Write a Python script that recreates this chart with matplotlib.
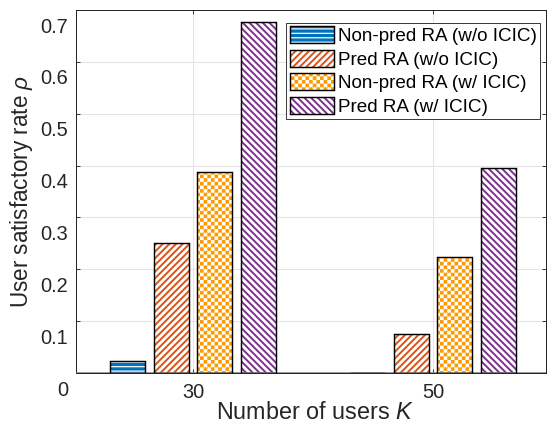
import warnings
import numpy as np
import matplotlib
matplotlib.use('Agg')
import matplotlib.pyplot as plt
import matplotlib.patches as mpatches
import matplotlib.hatch as mhatch
from matplotlib.path import Path
from matplotlib.transforms import ScaledTranslation
from matplotlib.legend_handler import HandlerTuple

warnings.filterwarnings('ignore')

# ---- data ----
users = ['30', '50']
series_names = ['Non-pred RA (w/o ICIC)', 'Pred RA (w/o ICIC)',
                'Non-pred RA (w/ ICIC)', 'Pred RA (w/ ICIC)']
nonpred_wo_icic = [0.024, 0.0]
pred_wo_icic = [0.251, 0.075]
nonpred_w_icic = [0.387, 0.224]
pred_w_icic = [0.677, 0.396]
y_ticks = [0, 0.1, 0.2, 0.3, 0.4, 0.5, 0.6, 0.7]
y_tick_labels = ['0', '0.1', '0.2', '0.3', '0.4', '0.5', '0.6', '0.7']


# ---- checkerboard hatch ('c') ----
class CheckerHatch(mhatch.HatchPatternBase):
    def __init__(self, hatch, density):
        self.num_cells = 22 * hatch.count('c')
        self.num_vertices = (self.num_cells ** 2 // 2) * 5

    def set_vertices_and_codes(self, vertices, codes):
        n = self.num_cells
        step = 1.0 / n
        square = np.array([[0, 0], [1, 0], [1, 1], [0, 1], [0, 0]], float) * step
        sq_codes = [Path.MOVETO, Path.LINETO, Path.LINETO, Path.LINETO, Path.CLOSEPOLY]
        k = 0
        for i in range(n):
            for j in range(n):
                if (i + j) % 2 == 0:
                    vertices[k:k + 5] = square + (i * step, j * step)
                    codes[k:k + 5] = sq_codes
                    k += 5


mhatch._hatch_types.append(CheckerHatch)

plt.rcParams['font.family'] = ['Liberation Sans', 'DejaVu Sans']
plt.rcParams['mathtext.fontset'] = 'custom'
plt.rcParams['mathtext.rm'] = 'Liberation Sans'
plt.rcParams['mathtext.it'] = 'Liberation Sans:italic'

# face colour, hatch colour, hatch pattern, hatch line width (pt)
styles = [
    ('#0072BD', 'white', '---', 1.1),
    ('white', '#D95319', '////', 1.75),
    ('white', '#FF9900', 'c', 0.0),
    ('white', '#7E2F8E', '\\\\\\\\', 1.75),
]
hatch_widths = {s[2]: s[3] for s in styles}


def pin_hatch_width(patch):
    """Give this patch the hatch line width that belongs to its pattern."""
    lw = hatch_widths.get(patch.get_hatch())
    if lw is None:
        return
    if hasattr(patch, 'set_hatch_linewidth'):
        patch.set_hatch_linewidth(lw)
    elif hasattr(patch, '_hatch_linewidth'):
        patch._hatch_linewidth = lw
    orig = patch.draw

    def draw(renderer, _orig=orig, _lw=lw):
        with matplotlib.rc_context({'hatch.linewidth': _lw}):
            _orig(renderer)
    patch.draw = draw


DPI = 80
fig = plt.figure(figsize=(547 / DPI, 426 / DPI), dpi=DPI)
ax = fig.add_axes([76 / 547, 1 - 373 / 426, (546 - 76) / 547, (373 - 10) / 426])

x = np.arange(len(users))
pitch = 0.1815
width = 0.146
offsets = (np.arange(4) - 1.5) * pitch
values = [nonpred_wo_icic, pred_wo_icic, nonpred_w_icic, pred_w_icic]

handles = []
for vals, off, (face, hcol, hatch, hlw) in zip(values, offsets, styles):
    with matplotlib.rc_context({'hatch.linewidth': hlw}):
        fill_bars = ax.bar(x + off, vals, width, facecolor=face, edgecolor=hcol,
                           hatch=hatch, linewidth=0, zorder=3)
        h_fill = mpatches.Patch(facecolor=face, edgecolor=hcol, hatch=hatch,
                                linewidth=0)
    for p in fill_bars:
        pin_hatch_width(p)
    ax.bar(x + off, vals, width, fill=False, edgecolor='black',
           linewidth=1.3, zorder=4)
    h_edge = mpatches.Patch(fill=False, edgecolor='black', linewidth=1.3)
    handles.append((h_fill, h_edge))

# bar baseline
ax.axhline(0, color='#8a8a8a', linewidth=1.5, zorder=3.5)

ax.set_xlim(-0.4875, 1.471)
ax.set_ylim(0, 0.7)
ax.set_xticks(x)
ax.set_xticklabels(users)
ax.set_yticks(y_ticks)
ax.set_yticklabels(y_tick_labels)

ax.grid(True, color='#e3e3e3', linewidth=0.9, zorder=0)
ax.set_axisbelow(True)
for s in ax.spines.values():
    s.set_color('#262626')
    s.set_linewidth(0.9)
ax.tick_params(direction='in', length=3.6, width=0.8, color='#262626',
               labelcolor='#262626', labelsize=18, top=True, right=True)
ax.tick_params(axis='y', pad=7)
ax.tick_params(axis='x', pad=9)

# y tick labels sit a little below their ticks
shift = ScaledTranslation(0, -15 / DPI, fig.dpi_scale_trans)
for lab in ax.get_yticklabels():
    lab.set_transform(lab.get_transform() + shift)

ax.set_xlabel(r'Number of users $K$', fontsize=21, color='#262626')
ax.set_ylabel(r'User satisfactory rate $\rho$', fontsize=20.3, color='#262626')
ax.xaxis.label.set_va('center')
ax.yaxis.label.set_va('center')
ax.xaxis.set_label_coords(0.509, -0.110)
ax.yaxis.set_label_coords(-0.117, 0.5)

leg = ax.legend(handles, series_names, handler_map={tuple: HandlerTuple(ndivide=1)},
                loc='upper right', bbox_to_anchor=(0.987, 0.964), borderaxespad=0,
                fontsize=17.0, handlelength=2.33, handleheight=1.0,
                handletextpad=0.21, labelspacing=0.24, borderpad=0.18,
                fancybox=False, framealpha=1, edgecolor='#262626')
leg.get_frame().set_linewidth(0.8)
leg.set_zorder(10)
for t in leg.get_texts():
    t.set_color('#000000')
for p in leg.findobj(mpatches.Rectangle):
    pin_hatch_width(p)

fig.savefig('out.png', dpi=DPI)
